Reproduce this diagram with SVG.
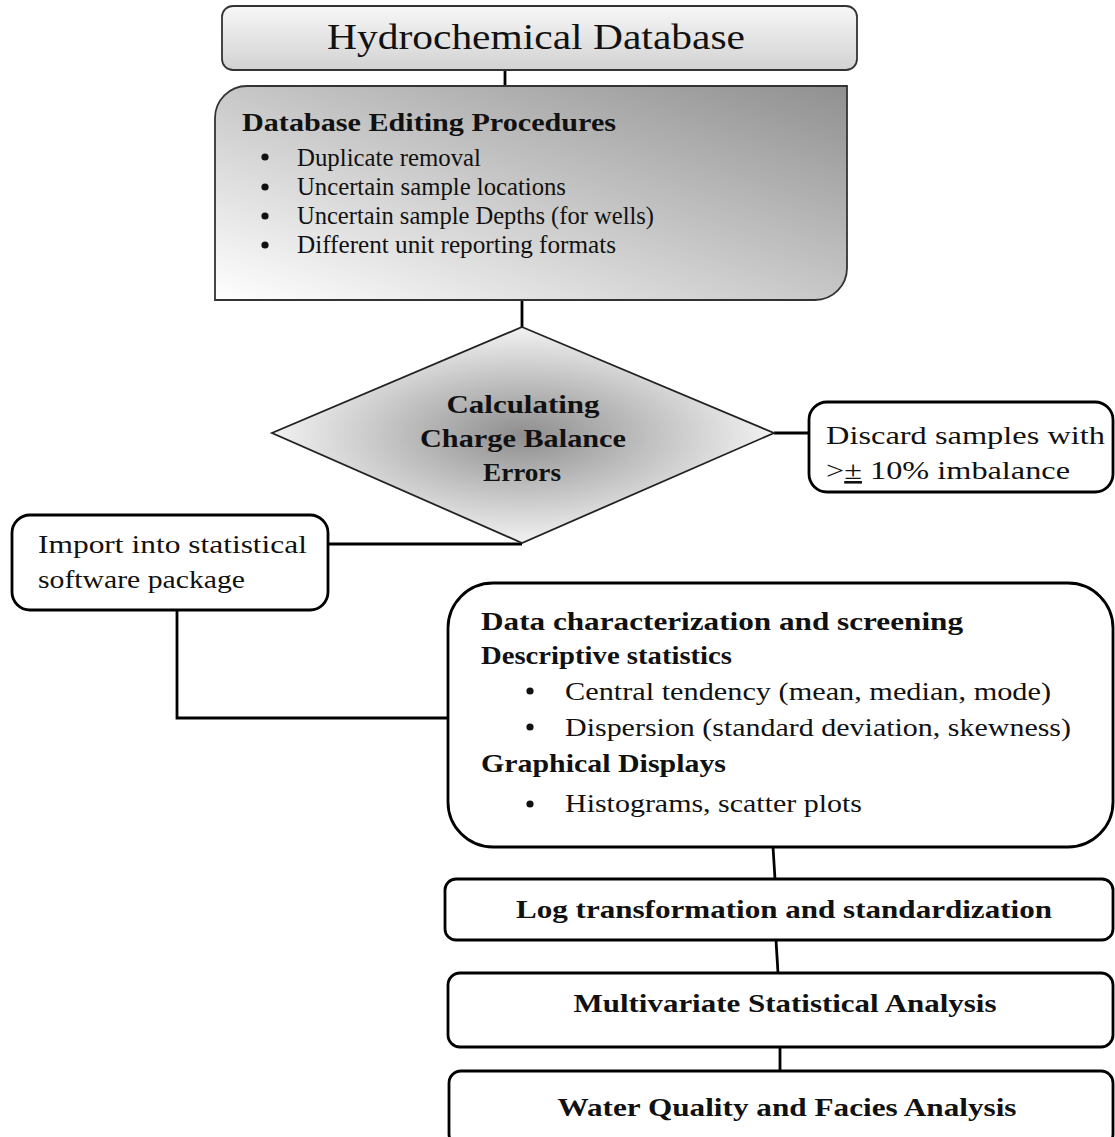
<svg xmlns="http://www.w3.org/2000/svg" width="1115" height="1137" viewBox="0 0 1115 1137">
<defs>
<linearGradient id="gTop" x1="0" y1="0" x2="0" y2="1">
<stop offset="0" stop-color="#f7f7f7"/>
<stop offset="1" stop-color="#d2d2d2"/>
</linearGradient>
<linearGradient id="gEdit" x1="0" y1="1" x2="1" y2="0">
<stop offset="0" stop-color="#ffffff"/>
<stop offset="1" stop-color="#909090"/>
</linearGradient>
<radialGradient id="gDia" cx="0.5" cy="0.5" r="0.5">
<stop offset="0" stop-color="#8e8e8e"/>
<stop offset="1" stop-color="#f2f2f2"/>
</radialGradient>
<style>
text{font-family:"Liberation Serif","Times New Roman",serif;fill:#111;}
.b{font-weight:bold;}
.box{fill:#fff;stroke:#000;stroke-width:2.8;}
.con{fill:none;stroke:#000;stroke-width:2.8;}
</style>
</defs>
<g id="connectors">
<line class="con" x1="505" y1="70" x2="505" y2="87"/>
<line class="con" x1="522" y1="300" x2="522" y2="327"/>
<line class="con" x1="774" y1="433" x2="809" y2="433"/>
<line class="con" x1="328" y1="544" x2="522" y2="544"/>
<polyline class="con" points="177,610 177,718 448,718"/>
<line class="con" x1="773" y1="847" x2="775" y2="879"/>
<line class="con" x1="776" y1="940" x2="778" y2="973"/>
<line class="con" x1="780" y1="1047" x2="780" y2="1071"/>
</g>
<g id="hydro">
<rect x="222" y="6" width="635" height="64" rx="11" fill="url(#gTop)" stroke="#333" stroke-width="1.8"/>
<text x="536" y="49" font-size="35" text-anchor="middle" textLength="418" lengthAdjust="spacingAndGlyphs">Hydrochemical Database</text>
</g>
<g id="editing">
<path d="M215,300 L215,118 A32,32 0 0 1 247,86 L847,86 L847,268 A32,32 0 0 1 815,300 Z" fill="url(#gEdit)" stroke="#333" stroke-width="1.8"/>
<text x="242" y="131" font-size="25" class="b" textLength="374" lengthAdjust="spacingAndGlyphs">Database Editing Procedures</text>
<circle cx="265" cy="157" r="3.6" fill="#111"/>
<circle cx="265" cy="187" r="3.6" fill="#111"/>
<circle cx="265" cy="216" r="3.6" fill="#111"/>
<circle cx="265" cy="245" r="3.6" fill="#111"/>
<text x="297" y="166" font-size="25" textLength="184" lengthAdjust="spacingAndGlyphs">Duplicate removal</text>
<text x="297" y="195" font-size="25" textLength="269" lengthAdjust="spacingAndGlyphs">Uncertain sample locations</text>
<text x="297" y="224" font-size="25" textLength="357" lengthAdjust="spacingAndGlyphs">Uncertain sample Depths (for wells)</text>
<text x="297" y="253" font-size="25" textLength="319" lengthAdjust="spacingAndGlyphs">Different unit reporting formats</text>
</g>
<g id="charge">
<polygon points="522,327 774,433 522,543 272,433" fill="url(#gDia)" stroke="#222" stroke-width="1.8"/>
<text x="523" y="413" font-size="25" class="b" text-anchor="middle" textLength="153" lengthAdjust="spacingAndGlyphs">Calculating</text>
<text x="523" y="447" font-size="25" class="b" text-anchor="middle" textLength="206" lengthAdjust="spacingAndGlyphs">Charge Balance</text>
<text x="522" y="481" font-size="25" class="b" text-anchor="middle" textLength="78" lengthAdjust="spacingAndGlyphs">Errors</text>
</g>
<g id="discard">
<rect class="box" x="809" y="402" width="304" height="90" rx="18"/>
<text x="826" y="444" font-size="26" textLength="279" lengthAdjust="spacingAndGlyphs">Discard samples with</text>
<text x="826" y="479" font-size="26" textLength="244" lengthAdjust="spacingAndGlyphs">&gt;<tspan text-decoration="underline">±</tspan> 10% imbalance</text>
</g>
<g id="import">
<rect class="box" x="12" y="515" width="316" height="95" rx="18"/>
<text x="38" y="553" font-size="26" textLength="269" lengthAdjust="spacingAndGlyphs">Import into statistical</text>
<text x="38" y="588" font-size="26" textLength="207" lengthAdjust="spacingAndGlyphs">software package</text>
</g>
<g id="datachar">
<rect class="box" x="448" y="583" width="665" height="264" rx="45"/>
<text x="481" y="630" font-size="26" class="b" textLength="482" lengthAdjust="spacingAndGlyphs">Data characterization and screening</text>
<text x="481" y="664" font-size="26" class="b" textLength="251" lengthAdjust="spacingAndGlyphs">Descriptive statistics</text>
<circle cx="530" cy="691" r="3.6" fill="#111"/>
<circle cx="530" cy="727" r="3.6" fill="#111"/>
<circle cx="530" cy="804" r="3.6" fill="#111"/>
<text x="565" y="700" font-size="26" textLength="486" lengthAdjust="spacingAndGlyphs">Central tendency (mean, median, mode)</text>
<text x="565" y="736" font-size="26" textLength="506" lengthAdjust="spacingAndGlyphs">Dispersion (standard deviation, skewness)</text>
<text x="481" y="772" font-size="26" class="b" textLength="245" lengthAdjust="spacingAndGlyphs">Graphical Displays</text>
<text x="565" y="812" font-size="26" textLength="297" lengthAdjust="spacingAndGlyphs">Histograms, scatter plots</text>
</g>
<g id="logtrans">
<rect class="box" x="445" y="879" width="668" height="61" rx="11"/>
<text x="784" y="918" font-size="26" class="b" text-anchor="middle" textLength="536" lengthAdjust="spacingAndGlyphs">Log transformation and standardization</text>
</g>
<g id="multivar">
<rect class="box" x="448" y="973" width="665" height="74" rx="12"/>
<text x="785" y="1012" font-size="26" class="b" text-anchor="middle" textLength="423" lengthAdjust="spacingAndGlyphs">Multivariate Statistical Analysis</text>
</g>
<g id="water">
<rect class="box" x="449" y="1071" width="664" height="75" rx="12"/>
<text x="787" y="1116" font-size="26" class="b" text-anchor="middle" textLength="459" lengthAdjust="spacingAndGlyphs">Water Quality and Facies Analysis</text>
</g>
</svg>
